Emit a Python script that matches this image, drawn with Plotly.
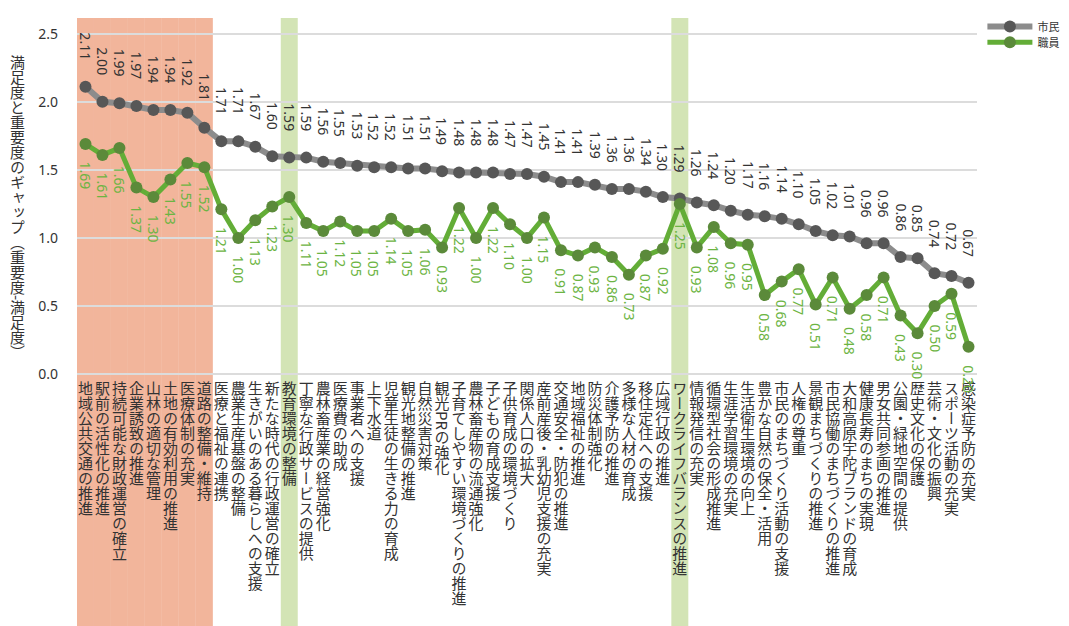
import plotly.graph_objects as go

categories = [
    "地域公共交通の推進", "駅前の活性化の推進", "持続可能な財政運営の確立", "企業誘致の推進",
    "山林の適切な管理", "土地の有効利用の推進", "医療体制の充実", "道路の整備・維持",
    "医療と福祉の連携", "農業生産基盤の整備", "生きがいのある暮らしへの支援", "新たな時代の行政運営の確立",
    "教育環境の整備", "丁寧な行政サービスの提供", "農林畜産業の経営強化", "医療費の助成",
    "事業者への支援", "上下水道", "児童生徒の生きる力の育成", "観光地整備の推進",
    "自然災害対策", "観光PRの強化", "子育てしやすい環境づくりの推進", "農林畜産物の流通強化",
    "子どもの育成支援", "子供育成の環境づくり", "関係人口の拡大", "産前産後・乳幼児支援の充実",
    "交通安全・防犯の推進", "地域福祉の推進", "防災体制強化", "介護予防の推進",
    "多様な人材の育成", "移住定住への支援", "広域行政の推進", "ワークライフバランスの推進",
    "情報発信の充実", "循環型社会の形成推進", "生涯学習環境の充実", "生活衛生環境の向上",
    "豊かな自然の保全・活用", "市民のまちづくり活動の支援", "人権の尊重", "景観まちづくりの推進",
    "市民協働のまちづくりの推進", "大和高原宇陀ブランドの育成", "健康長寿のまちの実現", "男女共同参画の推進",
    "公園・緑地空間の提供", "歴史文化の保護", "芸術・文化の振興", "スポーツ活動の充実",
    "感染症予防の充実",
]

citizen = [
    2.11, 2.00, 1.99, 1.97, 1.94, 1.94, 1.92, 1.81,
    1.71, 1.71, 1.67, 1.60, 1.59, 1.59, 1.56, 1.55,
    1.53, 1.52, 1.52, 1.51, 1.51, 1.49, 1.48, 1.48,
    1.48, 1.47, 1.47, 1.45, 1.41, 1.41, 1.39, 1.36,
    1.36, 1.34, 1.30, 1.29, 1.26, 1.24, 1.20, 1.17,
    1.16, 1.14, 1.10, 1.05, 1.02, 1.01, 0.96, 0.96,
    0.86, 0.85, 0.74, 0.72, 0.67,
]

staff = [
    1.69, 1.61, 1.66, 1.37, 1.30, 1.43, 1.55, 1.52,
    1.21, 1.00, 1.13, 1.23, 1.30, 1.11, 1.05, 1.12,
    1.05, 1.05, 1.14, 1.05, 1.06, 0.93, 1.22, 1.00,
    1.22, 1.10, 1.00, 1.15, 0.91, 0.87, 0.93, 0.86,
    0.73, 0.87, 0.92, 1.25, 0.93, 1.08, 0.96, 0.95,
    0.58, 0.68, 0.77, 0.51, 0.71, 0.48, 0.58, 0.71,
    0.43, 0.30, 0.50, 0.59, 0.20,
]

series_names = ["市民", "職員"]
red_highlight = categories[:8]
green_highlight = ["教育環境の整備", "ワークライフバランスの推進"]
y_ticks = [0.0, 0.5, 1.0, 1.5, 2.0, 2.5]
y_title = "満足度と重要度のギャップ（重要度-満足度）"

x = list(range(len(categories)))
GRAY_LINE = "#8c8c8c"
GRAY_MARK = "#575757"
GREEN_LINE = "#63ad37"
GREEN_MARK = "#5b8a3a"
GREEN_TEXT = "#6cb443"
TEXT = "#333333"

fig = go.Figure()
fig.add_trace(go.Scatter(
    x=x, y=citizen, mode="lines+markers", name=series_names[0],
    line=dict(color=GRAY_LINE, width=6),
    marker=dict(color=GRAY_MARK, size=12),
    legend="legend",
))
fig.add_trace(go.Scatter(
    x=x, y=staff, mode="lines+markers", name=series_names[1],
    line=dict(color=GREEN_LINE, width=5),
    marker=dict(color=GREEN_MARK, size=12),
    legend="legend2",
))

shapes = []
for c in red_highlight:
    i = categories.index(c)
    shapes.append(dict(type="rect", xref="x", yref="paper", x0=i - 0.5, x1=i + 0.5,
                       y0=-0.75, y1=1, fillcolor="#f2b59b", line=dict(width=0), layer="below"))
for c in green_highlight:
    i = categories.index(c)
    shapes.append(dict(type="rect", xref="x", yref="paper", x0=i - 0.5, x1=i + 0.5,
                       y0=-0.75, y1=1, fillcolor="#d3e4b5", line=dict(width=0), layer="below"))

annotations = []
for i in x:
    annotations.append(dict(
        x=i, y=citizen[i], xref="x", yref="y", text=f"{citizen[i]:.2f}",
        textangle=90, showarrow=False, yanchor="bottom", xanchor="center", yshift=24,
        font=dict(family="Noto Sans", size=14, color=TEXT),
    ))
    annotations.append(dict(
        x=i, y=staff[i], xref="x", yref="y", text=f"{staff[i]:.2f}",
        textangle=90, showarrow=False, yanchor="top", xanchor="center", yshift=-16,
        font=dict(family="Noto Sans", size=14, color=GREEN_TEXT),
    ))

annotations.append(dict(
    x=-0.066, y=0.467, xref="paper", yref="paper", text=y_title,
    showarrow=False, xanchor="center", yanchor="middle",
    font=dict(family="Noto Sans CJK JP", size=15, color=TEXT),
))

legend_common = dict(
    xanchor="left", yanchor="middle", x=1.006,
    font=dict(family="Noto Sans CJK JP", size=11, color=TEXT),
    bgcolor="rgba(0,0,0,0)", itemwidth=45,
)

fig.update_layout(
    width=1061, height=618,
    margin=dict(l=69, r=92, t=4, b=252),
    paper_bgcolor="white", plot_bgcolor="white",
    shapes=shapes, annotations=annotations,
    showlegend=True,
    legend=dict(y=0.976, **legend_common),
    legend2=dict(y=0.932, **legend_common),
    xaxis=dict(
        range=[-0.5, len(categories) - 0.5], tickmode="array", tickvals=x,
        ticktext=categories, tickangle=0,
        showgrid=False, zeroline=False, showline=False, ticks="",
        tickfont=dict(family="Noto Sans CJK JP", size=15, color=TEXT),
    ),
    yaxis=dict(
        range=[0, 2.616], tickmode="array", tickvals=y_ticks, tickformat=".1f",
        showgrid=True, gridcolor="#dcdcdc", gridwidth=1.5,
        zeroline=True, zerolinecolor="#dcdcdc", zerolinewidth=1.5,
        showline=False, ticks="", ticklabelstandoff=18,
        tickfont=dict(family="Noto Sans", size=14, color=TEXT),
    ),
)

# Render the category labels and the y-axis title in vertical (tategaki) writing mode,
# keeping plotly's own placement of each label.
post_script = """
var gd = document.getElementById('{plot_id}');
function verticalize() {
  var nodes = gd.querySelectorAll('.xtick text, text.annotation-text');
  nodes.forEach(function (t) {
    var isTitle = t.classList.contains('annotation-text');
    if (isTitle && t.textContent.indexOf('満足度と') !== 0) return;
    t.style.writingMode = '';
    var b = t.getBBox();
    var cx = b.x + b.width / 2;
    t.style.writingMode = 'vertical-rl';
    t.setAttribute('x', cx);
    if (isTitle) {
      t.setAttribute('y', b.y + b.height / 2);
      t.setAttribute('text-anchor', 'middle');
    } else {
      t.setAttribute('y', b.y + 8);
      t.setAttribute('text-anchor', 'start');
    }
  });
}
verticalize();
gd.on('plotly_afterplot', verticalize);
"""

fig.write_html("out.html", post_script=post_script)
